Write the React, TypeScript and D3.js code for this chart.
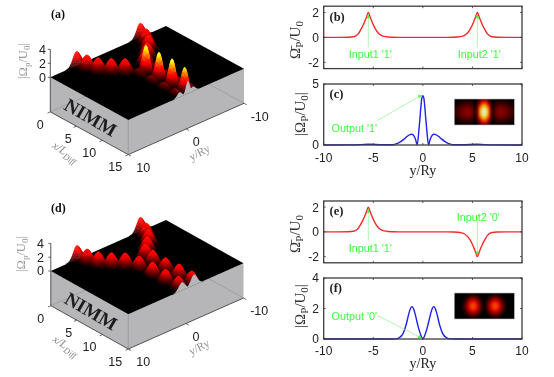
import React, { useMemo } from "react";
import * as d3 from "d3";

// ---------- 2D curves ----------
const inputAxis = [-10, -8.5, -7.5, -7, -6.8, -6.5, -6.3, -6.1, -5.9, -5.7, -5.5, -5.3, -5.1, -4.9, -4.7, -4.5, -4.2, -3.9, -3.5, -3, -2.5, 0, 2.5, 3, 3.5, 3.9, 4.2, 4.5, 4.7, 4.9, 5.1, 5.3, 5.5, 5.7, 5.9, 6.1, 6.3, 6.5, 6.8, 7, 7.5, 8.5, 10];
const inputB = [0, 0, 0.01, 0.05, 0.1, 0.3, 0.57, 0.85, 1.2, 1.6, 2, 1.6, 1.2, 0.85, 0.57, 0.36, 0.17, 0.08, 0.03, 0.01, 0, 0, 0, 0.01, 0.03, 0.08, 0.17, 0.36, 0.57, 0.85, 1.2, 1.6, 2, 1.6, 1.2, 0.85, 0.57, 0.3, 0.1, 0.05, 0.01, 0, 0];
const inputE = [0, 0, 0.01, 0.05, 0.1, 0.3, 0.57, 0.85, 1.2, 1.6, 2, 1.6, 1.2, 0.85, 0.57, 0.36, 0.17, 0.08, 0.03, 0.01, 0, 0, 0, -0.01, -0.03, -0.08, -0.17, -0.36, -0.57, -0.85, -1.2, -1.6, -2, -1.6, -1.2, -0.85, -0.57, -0.3, -0.1, -0.05, -0.01, 0, 0];
const outputCAxis = [-10, -7, -5.5, -4, -3, -2.6, -2.2, -1.9, -1.6, -1.3, -1.1, -0.9, -0.75, -0.57, -0.4, -0.3, -0.2, -0.1, 0, 0.1, 0.2, 0.3, 0.4, 0.57, 0.75, 0.9, 1.1, 1.3, 1.6, 1.9, 2.2, 2.6, 3, 4, 5.5, 7, 10];
const outputC = [0, 0.01, 0.06, 0.02, 0.02, 0.12, 0.3, 0.48, 0.7, 0.85, 0.88, 0.75, 0.5, 0.02, 1.2, 2.1, 3.1, 3.85, 4.05, 3.85, 3.1, 2.1, 1.2, 0.02, 0.5, 0.75, 0.88, 0.85, 0.7, 0.48, 0.3, 0.12, 0.02, 0.02, 0.06, 0.01, 0];
const outputFAxis = [-10, -3.2, -2.8, -2.4, -2, -1.7, -1.4, -1.25, -1.1, -0.95, -0.8, -0.6, -0.4, -0.2, 0, 0.2, 0.4, 0.6, 0.8, 0.95, 1.1, 1.25, 1.4, 1.7, 2, 2.4, 2.8, 3.2, 10];
const outputF = [0, 0, 0.01, 0.08, 0.35, 0.9, 1.7, 2.0, 2.12, 2.0, 1.7, 1.15, 0.65, 0.25, 0, 0.25, 0.65, 1.15, 1.7, 2.0, 2.12, 2.0, 1.7, 0.9, 0.35, 0.08, 0.01, 0, 0];

const yTicks2D = [-10, -5, 0, 5, 10];
const inputTicks = [-2, 0, 2];

// ---------- 3D surfaces: peaks ----------
const beamX = [0, 1.6, 3.1, 4.4, 5.6];
const beam1Y = [5.5, 5.1, 4.5, 3.4, 2.1];
const beam2Y = [-5.5, -5.1, -4.2, -2.8, -1.4];
const beamH = [2.05, 2.0, 2.0, 2.0, 2.0];
const outX = [7.4, 9.8, 12.2, 14.4];
const outY = [0.1, 0, -0.1, -0.3];
const outMainH = [3.95, 3.9, 3.9, 3.5];
const outLobeY = [1.15, -1.15];
const outLobeH = [0.9, 0.9, 0.9, 0.9];
const dFrontX = [7.2, 9.7, 12.1, 14.4];
const dFrontY = [1.1, 1.0, 0.9, 0.7];
const dFrontH = [1.85, 1.95, 1.9, 1.8];
const dBackX = [7.4, 9.8, 12.3, 14.6];
const dBackY = [-1.1, -1.15, -1.25, -1.4];
const dBackH = [1.95, 1.85, 1.95, 1.85];

type Peak = { x: number; y: number; h: number; sx: number; sy: number };
const inputPeaks: Peak[] = [
  ...beamX.map((x, i) => ({ x, y: beam1Y[i], h: beamH[i], sx: 0.62, sy: 0.6 })),
  ...beamX.map((x, i) => ({ x, y: beam2Y[i], h: beamH[i], sx: 0.62, sy: 0.6 })),
];
const peaksA: Peak[] = [
  ...inputPeaks,
  ...outX.map((x, i) => ({ x, y: outY[i], h: outMainH[i], sx: 0.52, sy: 0.34 })),
  ...outLobeY.flatMap((y) => outX.map((x, i) => ({ x, y, h: outLobeH[i], sx: 0.85, sy: 0.42 }))),
];
const peaksD: Peak[] = [
  ...inputPeaks,
  ...dFrontX.map((x, i) => ({ x, y: dFrontY[i], h: dFrontH[i], sx: 0.66, sy: 0.55 })),
  ...dBackX.map((x, i) => ({ x, y: dBackY[i], h: dBackH[i], sx: 0.66, sy: 0.55 })),
];

// MATLAB "hot" map
const hot = (t: number) => {
  const v = Math.max(0, Math.min(1, t));
  const r = Math.max(0.02, Math.min(1, (v - 0.03) / 0.3));
  const g = Math.max(0, Math.min(1, (v - 0.375) / 0.375));
  const b = Math.max(0, Math.min(1, (v - 0.75) / 0.25));
  return d3.rgb(r * 255, g * 255, b * 255).formatHex();
};
const heightAt = (x: number, y: number, peaks: Peak[]) => {
  let m = 0;
  for (const p of peaks) {
    const dx = (x - p.x) / p.sx;
    const dy = (y - p.y) / p.sy;
    const e = dx * dx + dy * dy;
    if (e < 14) m = Math.max(m, p.h * Math.exp(-e / 2));
  }
  return m;
};

const SANS = "'Liberation Sans', Arial, sans-serif";
const SERIF = "'Liberation Serif', 'Times New Roman', serif";
const GREEN = "#3dfc3d";
const ARROW = "#8cf58c";

// ---------- 3D panel ----------
type P3 = {
  peaks: Peak[];
  left: [number, number];
  front: [number, number];
  back: [number, number];
  drop: number;
  zUnit: number;
  title: string;
  titleX: number;
  titleY: number;
  zLabelX: number;
  zTickX: number;
  zText: number;
};
const xAxisTicks = [0, 5, 10, 15];
const yAxisTicks = [10, 0, -10];
const zAxisTicks = [0, 2, 4];
const xLabelDx = [-10, -8, -13, -13];
const yLabelDx = [15, 10, 15.7];

function Surface({ peaks, left, front, back, drop, zUnit, title, titleX, titleY, zLabelX, zTickX, zText }: P3) {
  const aS = d3.scaleLinear().domain([0, 15]).range([0, 1]);
  const bS = d3.scaleLinear().domain([10, -10]).range([0, 1]);
  const zS = d3.scaleLinear().domain([0, 1]).range([0, -zUnit]);
  const pt = (x: number, y: number, z = 0): [number, number] => {
    const a = aS(x), b = bS(y);
    return [
      left[0] + a * (front[0] - left[0]) + b * (back[0] - left[0]),
      left[1] + a * (front[1] - left[1]) + b * (back[1] - left[1]) + zS(z),
    ];
  };
  const poly = (ps: [number, number][]) => "M" + ps.map((p) => `${p[0].toFixed(2)},${p[1].toFixed(2)}`).join("L") + "Z";
  const cells = useMemo(() => {
    const out: { d: string; c: string }[] = [];
    const dx = 0.15, dy = 0.1;
    for (let i = 0; i < 100; i++) {
      const x0 = i * dx, x1 = x0 + dx;
      for (let j = 0; j < 200; j++) {
        const y0 = -10 + j * dy, y1 = y0 + dy;
        const h00 = heightAt(x0, y0, peaks), h10 = heightAt(x1, y0, peaks), h01 = heightAt(x0, y1, peaks), h11 = heightAt(x1, y1, peaks);
        const mx = Math.max(h00, h10, h01, h11);
        if (mx < 0.02) continue;
        const d = poly([pt(x0, y0, h00), pt(x1, y0, h10), pt(x1, y1, h11), pt(x0, y1, h01)]);
        out.push({ d, c: hot((h00 + h10 + h01 + h11) / 4 / 4.6) });
      }
    }
    return out;
  }, []);
  const sampleY = d3.range(10, -10.01, -0.1);
  const profile = poly([pt(15, 10), ...sampleY.map((y) => pt(15, y, heightAt(15, y, peaks))), pt(15, -10)]);
  const dn = (p: [number, number]): [number, number] => [p[0], p[1] + drop];
  const L = pt(0, 10), F = pt(15, 10), R = pt(15, -10), B = pt(0, -10);
  const AX = "#444";
  return (
    <g>
      <path d={poly([L, F, dn(F), dn(L)])} fill="#b6b6b9" />
      <path d={poly([F, R, dn(R), dn(F)])} fill="#b6b6b9" />
      <line x1={dn(L)[0]} y1={dn(L)[1]} x2={dn(B)[0]} y2={dn(B)[1]} stroke="#8e8e90" strokeWidth={0.6} />
      <line x1={dn(R)[0]} y1={dn(R)[1]} x2={dn(B)[0]} y2={dn(B)[1]} stroke="#8e8e90" strokeWidth={0.6} />
      <path d={poly([L, F, R, B])} fill="#050000" />
      {cells.map((c, i) => (
        <path key={i} d={c.d} fill={c.c} stroke={c.c} strokeWidth={0.25} />
      ))}
      <path d={profile} fill="#b6b6b9" />
      {/* frame */}
      <path d={`M${dn(L)}L${dn(F)}L${dn(R)}`} fill="none" stroke={AX} strokeWidth={0.9} />
      <line x1={F[0]} y1={F[1]} x2={dn(F)[0]} y2={dn(F)[1]} stroke="#8a8a8c" strokeWidth={0.7} />
      <line x1={L[0]} y1={pt(0, 10, 4)[1]} x2={L[0]} y2={dn(L)[1]} stroke={AX} strokeWidth={0.9} />
      {zAxisTicks.map((z) => {
        const p = pt(0, 10, z);
        return (
          <g key={z}>
            <line x1={p[0] - 2.5} y1={p[1]} x2={p[0]} y2={p[1]} stroke={AX} strokeWidth={0.8} />
            <text x={zTickX} y={p[1]} dy="0.35em" textAnchor="end" fontFamily={SANS} fontSize={12.5} fill="#222">{z}</text>
          </g>
        );
      })}
      {xAxisTicks.map((x, i) => {
        const p = dn(pt(x, 10));
        return (
          <g key={x}>
            <line x1={p[0]} y1={p[1]} x2={p[0] - 2.8} y2={p[1] + 1.3} stroke={AX} strokeWidth={0.8} />
            <text x={p[0] + xLabelDx[i]} y={p[1] + 12.5} dy="0.35em" textAnchor="middle" fontFamily={SANS} fontSize={12.5} fill="#222">{x}</text>
          </g>
        );
      })}
      {yAxisTicks.map((y, i) => {
        const p = dn(pt(15, y));
        return (
          <g key={y}>
            <line x1={p[0]} y1={p[1]} x2={p[0] + 2.8} y2={p[1] + 1.5} stroke={AX} strokeWidth={0.8} />
            <text x={p[0] + yLabelDx[i]} y={p[1] + 13} dy="0.35em" textAnchor="middle" fontFamily={SANS} fontSize={12.5} fill="#222">{y}</text>
          </g>
        );
      })}
      <text transform={`translate(${zLabelX},${zText}) rotate(-90)`} textAnchor="middle" fontFamily={SERIF} fontSize={12.5} fill="#9a9a9a">
        |Ω<tspan dy={3} fontSize={9}>p</tspan><tspan dy={-3}>/U</tspan><tspan dy={3} fontSize={9}>0</tspan><tspan dy={-3}>|</tspan>
      </text>
      <text transform={`translate(${dn(L)[0] + 13},${dn(L)[1] + 43}) rotate(33)`} textAnchor="middle" fontFamily={SERIF} fontStyle="italic" fontSize={11.5} fill="#8c8c8c">
        x/L<tspan dy={3} fontSize={8.5}>Diff</tspan>
      </text>
      <text transform={`translate(${dn(pt(15, 0))[0] + 15},${dn(pt(15, 0))[1] + 27}) rotate(-27)`} textAnchor="middle" fontFamily={SERIF} fontSize={11.5} fill="#8c8c8c">
        y/Ry
      </text>
      <text transform={`translate(${dn(L)[0] + 37},${dn(L)[1] + 11}) rotate(30)`} textAnchor="middle" fontFamily={SERIF} fontWeight="bold" fontSize={19} fill="#1c1c1c">
        NIMM
      </text>
      <text x={titleX} y={titleY} fontFamily={SERIF} fontWeight="bold" fontSize={12} fill="#111">{title}</text>
    </g>
  );
}

// ---------- 2D panel ----------
const xS = d3.scaleLinear().domain([-10, 10]).range([323.7, 522]);

function Line2D({ xs, ys, color, domain, top, bottom, ticks }: any) {
  const yS = d3.scaleLinear().domain(domain).range([bottom, top]);
  const line = d3.line<number>().x((_, i) => xS(xs[i])).y((d) => yS(d)).curve(d3.curveMonotoneX);
  return (
    <g>
      <path d={line(ys) ?? ""} fill="none" stroke={color} strokeWidth={1.4} />
      {yTicks2D.map((t) => (
        <g key={t}>
          <line x1={xS(t)} x2={xS(t)} y1={bottom} y2={bottom - 2} stroke="#333" strokeWidth={0.8} />
          <line x1={xS(t)} x2={xS(t)} y1={top} y2={top + 2} stroke="#333" strokeWidth={0.8} />
        </g>
      ))}
      {ticks.map((t: number) => (
        <g key={t}>
          <line x1={323.7} x2={325.7} y1={yS(t)} y2={yS(t)} stroke="#333" strokeWidth={0.8} />
          <line x1={522} x2={520} y1={yS(t)} y2={yS(t)} stroke="#333" strokeWidth={0.8} />
          <text x={319} y={yS(t)} dy="0.36em" textAnchor="end" fontFamily={SANS} fontSize={12} fill="#222">{t}</text>
        </g>
      ))}
      <rect x={323.7} y={top} width={198.3} height={bottom - top} fill="none" stroke="#3c3c3c" strokeWidth={1.3} />
    </g>
  );
}

function XLabels({ y, labelY }: { y: number; labelY: number }) {
  return (
    <g>
      {yTicks2D.map((t) => (
        <text key={t} x={xS(t)} y={y} textAnchor="middle" fontFamily={SANS} fontSize={12} fill="#222">{t}</text>
      ))}
      <text x={xS(0)} y={labelY} textAnchor="middle" fontFamily={SERIF} fontSize={14} fill="#222">y/Ry</text>
    </g>
  );
}

function Arrow({ x1, y1, x2, y2 }: { x1: number; y1: number; x2: number; y2: number }) {
  const ang = Math.atan2(y2 - y1, x2 - x1);
  const s = 4.2, w = 0.42;
  const a = [x2 - s * Math.cos(ang - w), y2 - s * Math.sin(ang - w)];
  const b = [x2 - s * Math.cos(ang + w), y2 - s * Math.sin(ang + w)];
  return (
    <g>
      <line x1={x1} y1={y1} x2={x2} y2={y2} stroke={ARROW} strokeWidth={0.7} />
      <path d={`M${x2},${y2}L${a}L${b}Z`} fill={GREEN} />
    </g>
  );
}

function Green({ x, y, children, anchor = "middle" }: any) {
  return <text x={x} y={y} textAnchor={anchor} fontFamily={SANS} fontSize={10.8} fill={GREEN}>{children}</text>;
}

function YLab2D({ x, y, bar }: { x: number; y: number; bar?: boolean }) {
  return (
    <text transform={`translate(${x},${y}) rotate(-90)`} textAnchor="middle" fontFamily={SERIF} fontSize={15} fill="#333">
      {bar ? "Ω\u0304" : "|Ω"}
      <tspan dy={3} fontSize={11}>P</tspan>
      <tspan dy={-3}>/U</tspan>
      <tspan dy={3} fontSize={11}>0</tspan>
      {bar ? null : <tspan dy={-3}>|</tspan>}
    </text>
  );
}

function Inset({ id, x, y, w, h, xs, ys, unit, vSigma }: any) {
  const cell = 2;
  const cells: React.ReactElement[] = [];
  const prof = d3.scaleLinear().domain(xs).range(ys).clamp(true);
  for (let i = 0; i < w / cell; i++) {
    for (let j = 0; j < h / cell; j++) {
      const u = (i * cell + cell / 2 - w / 2) / unit;
      const v = (j * cell + cell / 2 - h / 2) / vSigma;
      const val = prof(u) * Math.exp((-v * v) / 2);
      cells.push(<rect key={i + "-" + j} x={x + i * cell} y={y + j * cell} width={cell + 0.1} height={cell + 0.1} fill={hot(val / 4.05)} />);
    }
  }
  return (
    <g>
      <clipPath id={id}>
        <rect x={x} y={y} width={w} height={h} />
      </clipPath>
      <rect x={x} y={y} width={w} height={h} fill="#050000" />
      <g clipPath={`url(#${id})`}>
        <g filter="url(#insetBlur)">{cells}</g>
      </g>
      <rect x={x} y={y} width={w} height={h} fill="none" stroke="#bdbdbd" strokeWidth={0.6} />
    </g>
  );
}

export default function App() {
  const yB = d3.scaleLinear().domain([-2.5, 2.5]).range([68.6, 6.2]);
  const yC = d3.scaleLinear().domain([0, 5]).range([145, 84]);
  const yE = d3.scaleLinear().domain([-2.5, 2.5]).range([262.8, 201]);
  const yF = d3.scaleLinear().domain([0, 4]).range([339, 278]);
  return (
    <svg width={554} height={377} viewBox="0 0 554 377" style={{ position: "absolute", left: 0, top: 0, display: "block", background: "#fff" }}>
      <defs>
        <filter id="soft" x="0" y="0" width="100%" height="100%">
          <feGaussianBlur stdDeviation={0.5} />
        </filter>
        <filter id="insetBlur" x="-10%" y="-10%" width="120%" height="120%">
          <feGaussianBlur stdDeviation={1.1} />
        </filter>
      </defs>
      <g filter="url(#soft)">
        <rect width={554} height={377} fill="#fff" />
        <Surface peaks={peaksA} left={[50.3, 77.3]} front={[128.3, 120]} back={[166, 26]} drop={34.6} zUnit={7} title="(a)" titleX={51} titleY={18} zLabelX={27} zTickX={46} zText={61} />
        <Surface peaks={peaksD} left={[50.8, 271]} front={[128.3, 314.3]} back={[166, 220]} drop={34.7} zUnit={6.9} title="(d)" titleX={51} titleY={212} zLabelX={25} zTickX={44} zText={254} />

        <Line2D xs={inputAxis} ys={inputB} color="#f42a2a" domain={[-2.5, 2.5]} top={6.2} bottom={68.6} ticks={inputTicks} />
        <Line2D xs={outputCAxis} ys={outputC} color="#2020e8" domain={[0, 5]} top={84} bottom={145} ticks={[0, 5]} />
        <Line2D xs={inputAxis} ys={inputE} color="#f42a2a" domain={[-2.5, 2.5]} top={201} bottom={262.8} ticks={inputTicks} />
        <Line2D xs={outputFAxis} ys={outputF} color="#2020e8" domain={[0, 4]} top={278} bottom={339} ticks={[0, 2, 4]} />

        <XLabels y={161.5} labelY={174.5} />
        <XLabels y={354.5} labelY={367.5} />

        <text x={329.5} y={21} fontFamily={SERIF} fontWeight="bold" fontSize={12.5} fill="#222">(b)</text>
        <text x={329.5} y={98} fontFamily={SERIF} fontWeight="bold" fontSize={12.5} fill="#222">(c)</text>
        <text x={329.5} y={215} fontFamily={SERIF} fontWeight="bold" fontSize={12.5} fill="#222">(e)</text>
        <text x={329.5} y={292} fontFamily={SERIF} fontWeight="bold" fontSize={12.5} fill="#222">(f)</text>

        <YLab2D x={300} y={40} bar />
        <YLab2D x={305} y={114} />
        <YLab2D x={300} y={234} bar />
        <YLab2D x={305} y={306} />

        <Arrow x1={xS(-5.5)} y1={yB(-0.8)} x2={xS(-5.5)} y2={yB(1.85)} />
        <Green x={xS(-5.3)} y={58}>Input1 '1'</Green>
        <Arrow x1={xS(5.5)} y1={yB(-0.8)} x2={xS(5.5)} y2={yB(1.85)} />
        <Green x={xS(5.7)} y={58}>Input2 '1'</Green>

        <Arrow x1={xS(-4.6)} y1={yC(2.0)} x2={xS(-0.1)} y2={yC(4.1)} />
        <Green x={331.5} y={132} anchor="start">Output '1'</Green>

        <Arrow x1={xS(-5.5)} y1={yE(-0.7)} x2={xS(-5.5)} y2={yE(1.85)} />
        <Green x={xS(-5.3)} y={252}>Input1 '1'</Green>
        <Arrow x1={xS(5.5)} y1={yE(1.2)} x2={xS(5.5)} y2={yE(-1.9)} />
        <Green x={xS(5.6)} y={221}>Input2 '0'</Green>

        <Arrow x1={xS(-4.6)} y1={yF(1.55)} x2={xS(-0.1)} y2={yF(0.05)} />
        <Green x={331.5} y={319.5} anchor="start">Output '0'</Green>

        <Inset id="insetC" x={454.3} y={99} w={60} h={26} xs={outputCAxis} ys={outputC} unit={14} vSigma={7} />
        <Inset id="insetF" x={454.3} y={293} w={60} h={26} xs={outputFAxis} ys={outputF} unit={10} vSigma={5.5} />
      </g>
    </svg>
  );
}
